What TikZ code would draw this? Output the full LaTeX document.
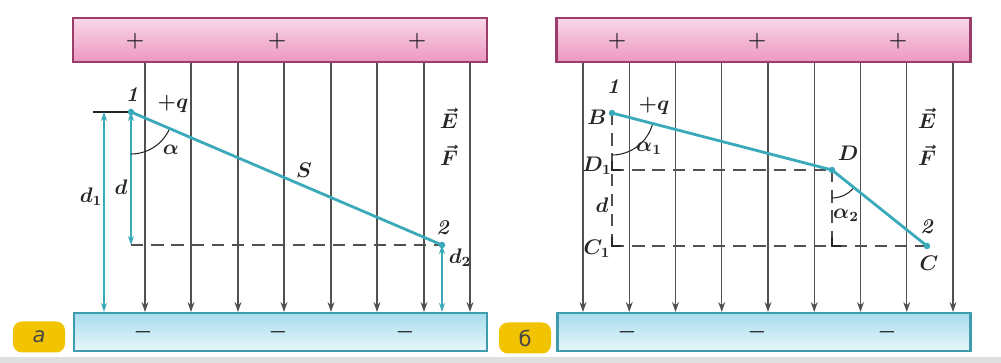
\documentclass[tikz,border=0pt]{standalone}
\usepackage{fontspec}
\usepackage{amsmath}
\usepackage{tikz}
\usetikzlibrary{positioning,calc,arrows.meta}
\newfontfamily\cyrfont{DejaVu Sans}
\definecolor{ink}      {HTML}{262626}
\definecolor{traj}     {HTML}{3AAABB}
\definecolor{rose}     {HTML}{E87DB0}
\definecolor{roseline} {HTML}{9A3D6B}
\definecolor{sky}      {HTML}{A6DCEE}
\definecolor{skyline}  {HTML}{3F9CAF}
\definecolor{tagfill}  {HTML}{F2C300}
\tikzset{
  >=stealth,
  every node/.style={font=\large},
  % --- nodes
  plusplate/.style = {draw=roseline, line width=1.2pt, top color=rose!30, bottom color=rose!80,
                      minimum width=82.8mm, minimum height=8.8mm},
  minusplate/.style= {draw=skyline, line width=1.2pt, top color=sky, bottom color=sky!25,
                      minimum width=82.6mm, minimum height=7.6mm},
  sign/.style  = {text=ink, inner sep=0pt, font=\large\boldmath},
  tag/.style   = {fill=tagfill, rounded corners=5pt, minimum width=10.4mm, minimum height=6.2mm,
                  font=\cyrfont\large, text=ink!85},
  lbl/.style   = {text=ink, inner sep=1pt, font=\large\boldmath},
  pt/.style    = {circle, fill=traj, inner sep=0pt, minimum size=1.3mm},
  % --- edges
  fld/.style   = {-{Stealth[length=2mm,width=1.4mm]}, draw=ink!80, line width=0.7pt},
  move/.style  = {draw=traj, line width=1.6pt},
  dim/.style   = {{Stealth[length=1.8mm,width=1.2mm]}-{Stealth[length=1.8mm,width=1.2mm]},
                  draw=traj, line width=0.8pt},
  aux/.style   = {draw=ink!80, line width=0.6pt, dash pattern=on 7pt off 4.5pt},
  ang/.style   = {draw=ink, line width=0.6pt},
}
\begin{document}
\begin{tikzpicture}[x=0.2mm, y=0.2mm]
  \useasboundingbox (0,0) rectangle (1001,363);
  \fill[gray!25] (0,0) rectangle (1001,6);

  % --- panel a
  \node[plusplate]  (topA) at (280,323) {};
  \node[minusplate] (botA) at (280.5,31) {};
  \foreach \x [count=\i] in {135,277,417} \node[sign] (pa\i) at (\x,322) {$+$};
  \foreach \x [count=\i] in {143,278,405} \node[sign] (ma\i) at (\x,31) {$-$};
  \foreach \x [count=\i] in {145,191,238,284,331,377,424,470} {
    \coordinate (la\i) at (\x,0);
    \draw[fld] (topA.south -| la\i) -- (botA.north -| la\i);
  }
  \node[tag] (tagA) at (39,26) {\itshape а};

  \coordinate (P1) at (131,251);
  \coordinate (P2) at (442,118);
  \coordinate (F1) at (131,118);
  \coordinate (tk) at (93,251);
  \coordinate (d1t) at (104,251);
  \draw[ink, line width=0.6pt] (tk) -- (P1);
  \draw[aux] (F1) -- (P2);
  \draw[dim] (P1) -- (F1);
  \draw[dim] (d1t) -- (botA.north -| d1t);
  \draw[dim] (P2) -- (botA.north -| P2);
  \draw[ang] (P1) ++(0,-42) arc[start angle=-90, end angle=-23, radius=8.4mm];
  \draw[move] (P1) -- (P2);
  \node[pt] (p1) at (P1) {};
  \node[pt] (p2) at (P2) {};

  \node[lbl] (n1)  at (132,268) {\textbf{\textit{1}}};
  \node[lbl] (qA)  at (173,259) {$+q$};
  \node[lbl] (aA)  at (171,213) {$\alpha$};
  \node[lbl] (dA)  at (121,176) {$d$};
  \node[lbl] (d1A) at (91,166)  {$d_1$};
  \node[lbl] (sA)  at (304,193) {$S$};
  \node[lbl] (n2)  at (443,135) {\textbf{\textit{2}}};
  \node[lbl] (d2A) at (460,105) {$d_2$};
  \node[lbl] (eA)  at (449,245) {$\vec{E}$};
  \node[lbl] (fA)  at (449,208) {$\vec{F}$};

  % --- panel b
  \node[plusplate]  (topB) at (763.5,323) {};
  \node[minusplate] (botB) at (764,31) {};
  \foreach \x [count=\i] in {617,757,898} \node[sign] (pb\i) at (\x,322) {$+$};
  \foreach \x [count=\i] in {627,757,887} \node[sign] (mb\i) at (\x,31) {$-$};
  \foreach \i in {0,...,8} {
    \coordinate (lb\i) at (583+46.25*\i,0);
    \draw[fld] (topB.south -| lb\i) -- (botB.north -| lb\i);
  }
  \node[tag] (tagB) at (525,25) {б};

  \coordinate (B)  at (612,250);
  \coordinate (D)  at (832,193);
  \coordinate (C)  at (927,117);
  \coordinate (D1) at (612,193);
  \coordinate (C1) at (612,117);
  \coordinate (Dc) at (832,117);
  \draw[aux] (B) -- (C1);
  \draw[aux] (D1) -- (D);
  \draw[aux] (C1) -- (C);
  \draw[aux] (D) -- (Dc);
  \foreach \c in {D1,C1,Dc}
    \draw[ang] ($(\c)+(0,9)$) -- (\c) -- ($(\c)+(9,0)$);
  \draw[ang] (B) ++(0,-42) arc[start angle=-90, end angle=-14.5, radius=8.4mm];
  \draw[ang] (D) ++(0,-28) arc[start angle=-90, end angle=-39, radius=5.6mm];
  \draw[move] (B) -- (D) -- (C);
  \node[pt] (pB) at (B) {};
  \node[pt] (pD) at (D) {};
  \node[pt] (pC) at (C) {};

  \node[lbl] (m1)  at (613,276) {\textbf{\textit{1}}};
  \node[lbl] (lB)  at (597,246) {$B$};
  \node[lbl] (qB)  at (654,257) {$+q$};
  \node[lbl] (a1)  at (649,215) {$\alpha_1$};
  \node[lbl] (lD1) at (597,197) {$D_1$};
  \node[lbl] (dB)  at (602,158) {$d$};
  \node[lbl] (lC1) at (597,114) {$C_1$};
  \node[lbl] (lD)  at (848,210) {$D$};
  \node[lbl] (a2)  at (846,148) {$\alpha_2$};
  \node[lbl] (m2)  at (927,136) {\textbf{\textit{2}}};
  \node[lbl] (lC)  at (929,100) {$C$};
  \node[lbl] (eB)  at (927,245) {$\vec{E}$};
  \node[lbl] (fB)  at (927,208) {$\vec{F}$};
\end{tikzpicture}
\end{document}
